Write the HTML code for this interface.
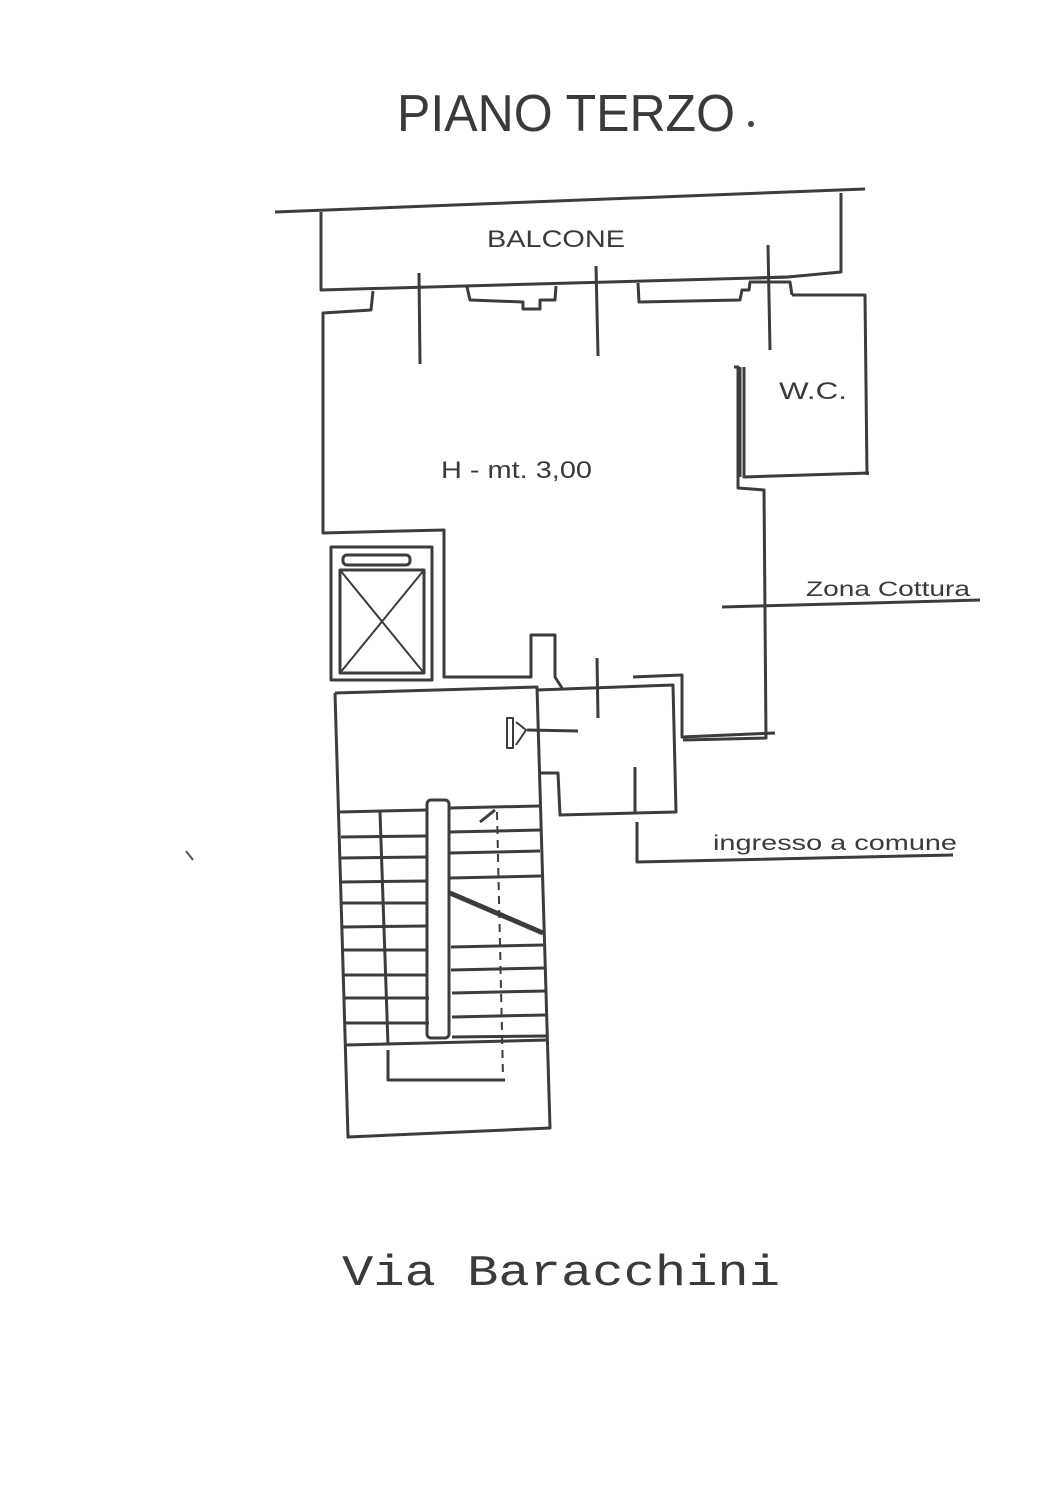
<!DOCTYPE html>
<html><head><meta charset="utf-8"><style>
html,body{margin:0;padding:0;background:#fff;}
svg{display:block}
text{font-family:"Liberation Sans",sans-serif;fill:#3a3a3a}
</style></head><body>
<svg width="1060" height="1499" viewBox="0 0 1060 1499" xmlns="http://www.w3.org/2000/svg">
<g fill="none" stroke="#3c3c3c" stroke-width="3" stroke-linejoin="round">
<!-- top line & balcony -->
<path d="M275,212 L865,189"/>
<path d="M321,212 L321,290 L788,277 L841,272 L841,193"/>
<!-- room outline -->
<path d="M373,291 L371,310 L323,313 L323,533 L444,530 L444,677 L531,677 L531,635 L555,635 L555,677 L562,688"/>
<path d="M792,295 L865,295 L867,475"/>
<!-- window bumps on top wall -->
<path d="M467,287 L470,300 L523,302 L523,309 L540,309 L540,300 L555,300 L556,286"/>
<path d="M638,283 L639,302 L740,300 L742,290 L749,290 L750,282"/>
<path d="M749,282 L790,282 L792,295"/>
<path d="M753,278 L790,277"/>
<!-- window/door ticks -->
<path d="M419,273 L420,364 M596,266 L598,356 M768,245 L770,350"/>
<!-- WC -->
<path d="M734,367 L738,367 L738,488 L764,490 L766,738 L683,740"/>
<path d="M744,367 L744,477 L869,473"/>
<path d="M740,367 L740,477"/>
<!-- zona cottura line -->
<path d="M722,607 L980,600"/>
<!-- elevator -->
<rect x="331" y="547" width="101" height="133"/>
<rect x="340" y="570" width="84" height="103"/>
<rect x="343" y="555" width="67" height="10" rx="4"/>
<path d="M340,570 L424,673 M424,570 L340,673" stroke-width="2"/>
<!-- stair box -->
<path d="M335,693 L537,687 L550,1128 L348,1137 L335,693"/>
<!-- landing -->
<path d="M537,690 L673,685 L676,812 L560,815 L558,773 L540,773"/>
<path d="M633,677 L682,675 L682,737 L775,733"/>
<path d="M597,658 L598,718"/>
<path d="M635,767 L635,812 M637,822 L637,862 L953,855"/>
<!-- handle symbol -->
<path d="M527,730 L578,731"/>
<path d="M507,718 L513,718 L513,748 L507,748 Z M516,722 L526,730 L516,745" stroke-width="2"/>
<!-- stairs -->
<rect x="427" y="800" width="22" height="238" rx="4"/>
<path d="M340,812 L427,810 M341,837 L427,836 M341,858 L428,857 M342,882 L428,881 M342,903 L428,903 M342,927 L428,926 M343,950 L428,950 M344,975 L428,975 M344,998 L429,998 M345,1023 L429,1023 M346,1045 L548,1040"/>
<path d="M380,812 L388,1045"/>
<path d="M450,808 L539,806 M450,832 L540,830 M450,853 L540,851 M450,878 L541,876 M451,947 L543,945 M451,970 L544,968 M452,993 L545,991 M452,1017 L546,1015 M452,1037 L547,1036"/>
<path d="M450,893 L543,933" stroke-width="5"/>
<path d="M497,812 L503,1077" stroke-dasharray="8,6" stroke-width="2"/>
<path d="M480,822 L495,810"/>
<path d="M388,1050 L388,1080 L505,1080"/>
</g>
<text x="397" y="131" font-size="52" textLength="338" lengthAdjust="spacingAndGlyphs">PIANO TERZO</text>
<circle cx="751" cy="124" r="3" fill="#444"/>
<text x="487" y="247" font-size="24" textLength="138" lengthAdjust="spacingAndGlyphs">BALCONE</text>
<text x="779" y="399" font-size="24" textLength="68" lengthAdjust="spacingAndGlyphs">W.C.</text>
<text x="441" y="478" font-size="24" textLength="151" lengthAdjust="spacingAndGlyphs">H - mt. 3,00</text>
<text x="806" y="596" font-size="21" textLength="164" lengthAdjust="spacingAndGlyphs">Zona Cottura</text>
<text x="713" y="850" font-size="21" textLength="244" lengthAdjust="spacingAndGlyphs">ingresso a comune</text>
<text x="342" y="1285" font-size="44" font-family="Liberation Mono" textLength="438" lengthAdjust="spacingAndGlyphs" style="font-family:'Liberation Mono',monospace">Via Baracchini</text>
<path d="M186,851 L193,860" stroke="#555" stroke-width="2"/>
</svg>
</body></html>
